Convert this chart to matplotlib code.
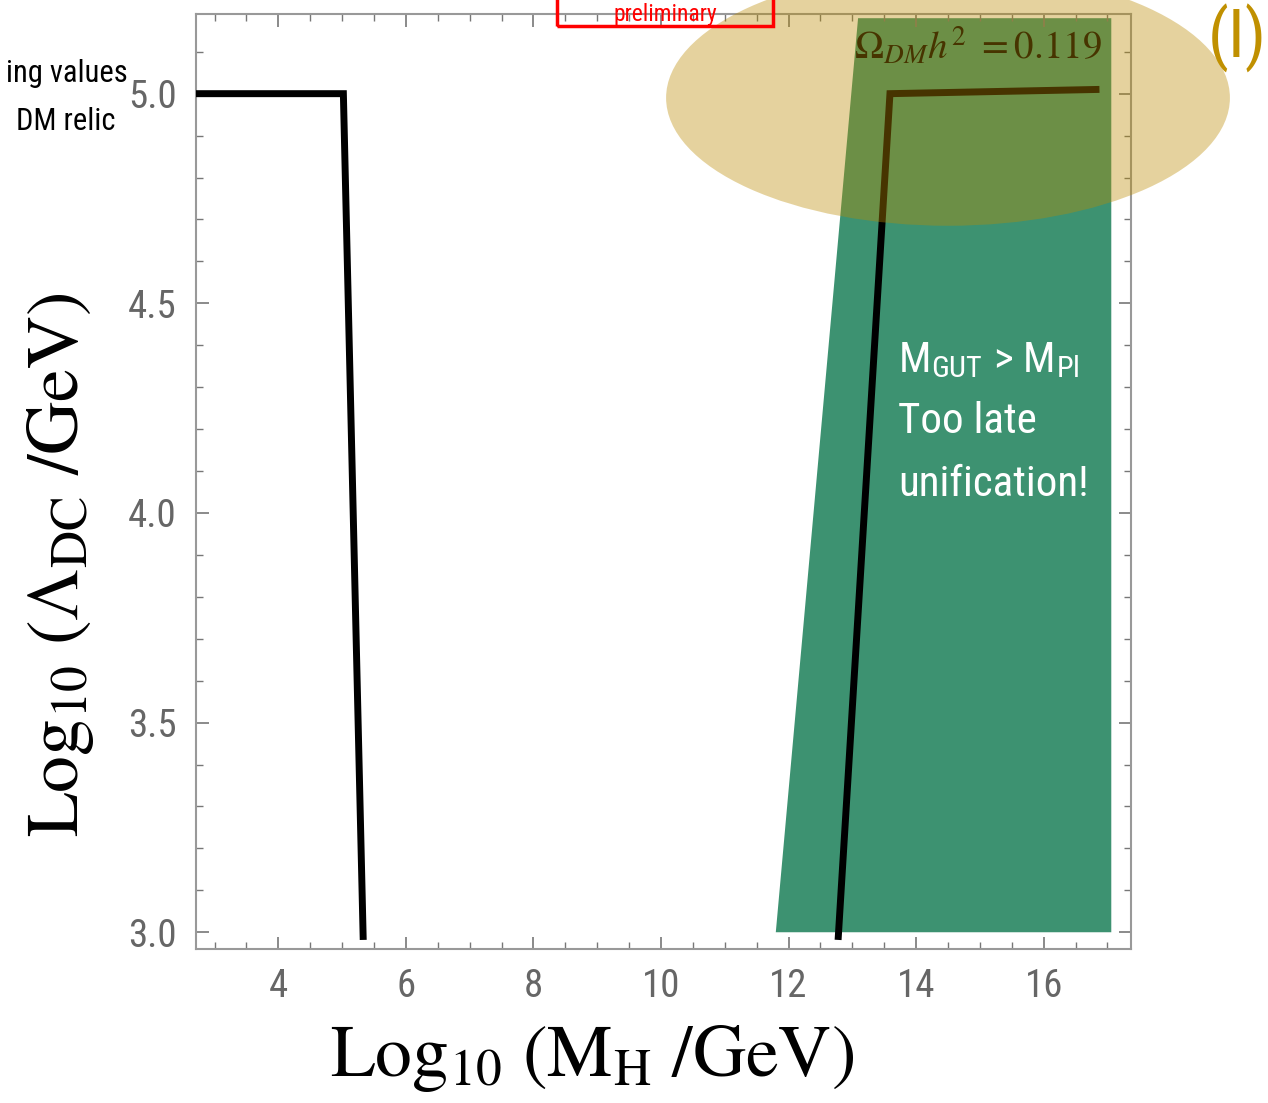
import matplotlib
matplotlib.use("Agg")
import matplotlib.pyplot as plt
from matplotlib import font_manager
from matplotlib.patches import Polygon, Ellipse, Rectangle
from matplotlib.ticker import MultipleLocator

plt.rcParams['mathtext.fontset'] = 'stix'

# ---- data ----
line1_x = [2.7, 5.02, 5.33]
line1_y = [5.0, 5.0, 2.99]
line2_x = [12.78, 13.59, 16.82]
line2_y = [2.99, 5.0, 5.01]
region_x = [11.80, 13.09, 17.06, 17.06]
region_y = [3.0, 5.18, 5.18, 3.0]
xticks = [4, 6, 8, 10, 12, 14, 16]
yticks = [3.0, 3.5, 4.0, 4.5, 5.0]
xlim = (2.71, 17.37)
ylim = (2.96, 5.19)

# pick a narrow sans font if available
names = {f.name for f in font_manager.fontManager.ttflist}
narrow = 'DejaVu Sans'
for cand in ['Liberation Sans Narrow', 'Roboto Condensed', 'Open Sans Condensed',
             'DejaVu Sans Condensed']:
    if cand in names:
        narrow = cand
        break
NARROW_SCALE = 1.0 if narrow != 'DejaVu Sans' else 0.8

fig = plt.figure(figsize=(12.68, 11.03), dpi=100)
ax = fig.add_axes([0.1546, 0.1396, 0.892 - 0.1546, 0.9873 - 0.1396])
ax.set_xlim(*xlim)
ax.set_ylim(*ylim)

ax.add_patch(Polygon(list(zip(region_x, region_y)), closed=True,
                     facecolor='#3d9271', edgecolor='none', zorder=1))
ax.plot(line1_x, line1_y, color='black', lw=5, solid_joinstyle='miter', zorder=3)
ax.plot(line2_x, line2_y, color='black', lw=5, solid_joinstyle='miter', zorder=3)

ax.text(13.03, 5.065, r'$\Omega_{DM}h^2\ = 0.119$', fontsize=28, color='black',
        ha='left', va='bottom', zorder=4)

tx = 13.72
gsize = 31 * NARROW_SCALE
ax.text(tx, 4.335, r'M$_{\mathregular{GUT}}$ > M$_{\mathregular{Pl}}$', fontsize=gsize, color='white',
        family=narrow, ha='left', va='baseline', zorder=4)
ax.text(tx, 4.19, 'Too late', fontsize=gsize, color='white',
        family=narrow, ha='left', va='baseline', zorder=4)
ax.text(tx, 4.04, 'unification!', fontsize=gsize, color='white',
        family=narrow, ha='left', va='baseline', zorder=4)

# ticks
for s in ax.spines.values():
    s.set_color('#999999')
    s.set_linewidth(1.5)
ax.xaxis.set_minor_locator(MultipleLocator(0.5))
ax.yaxis.set_minor_locator(MultipleLocator(0.1))
ax.set_xticks(xticks)
ax.set_yticks(yticks)
ax.set_xticklabels([str(v) for v in xticks])
ax.set_yticklabels([f'{v:.1f}' for v in yticks])
ax.tick_params(which='both', direction='in', top=True, right=True, color='#777777')
ax.tick_params(which='major', length=9, width=1.2, labelsize=26, labelcolor='#666666', pad=14)
ax.tick_params(which='minor', length=5, width=1.0)
for lab in ax.get_xticklabels() + ax.get_yticklabels():
    lab.set_family(narrow)
    lab.set_fontsize(28 * NARROW_SCALE if narrow != 'DejaVu Sans' else 25)

fig.text(592 / 1268, 1 - 1058 / 1103, r'$\mathrm{Log}_{10}\ (\mathrm{M}_{\mathrm{H}}\ /\mathrm{GeV})$',
         fontsize=53, ha='center', va='center')
fig.text(60 / 1268, 1 - 565 / 1103, r'$\mathrm{Log}_{10}\ (\Lambda_{\mathrm{DC}}\ /\mathrm{GeV})$',
         fontsize=53, ha='center', va='center', rotation=90)

# overlay ellipse (annotation)
ax.add_patch(Ellipse((14.50, 4.99), 8.84, 0.61, facecolor='#bb8b00', alpha=0.38,
                     edgecolor='none', zorder=10, clip_on=False))

# (I) label
fig.text(1237 / 1268, 1 - 38 / 1103, '(I)', fontsize=48 * NARROW_SCALE, color='#c09000',
         ha='center', va='center', family=narrow)

# left text
fig.text(128 / 1268, 1 - 73 / 1103, 'ing values', fontsize=22 * NARROW_SCALE, color='black',
         ha='right', va='center', family=narrow)
fig.text(116 / 1268, 1 - 122 / 1103, 'DM relic', fontsize=22 * NARROW_SCALE, color='black',
         ha='right', va='center', family=narrow)

# preliminary box
fig.patches.append(Rectangle((557 / 1268, 1 - 26 / 1103), 216 / 1268, 60 / 1103,
                             transform=fig.transFigure, facecolor='none',
                             edgecolor='red', lw=2.5, zorder=5))
fig.text(665 / 1268, 1 - 21 / 1103, 'preliminary', fontsize=17 * NARROW_SCALE, color='red',
         ha='center', va='baseline', family=narrow)

fig.savefig('out.png', dpi=100)
